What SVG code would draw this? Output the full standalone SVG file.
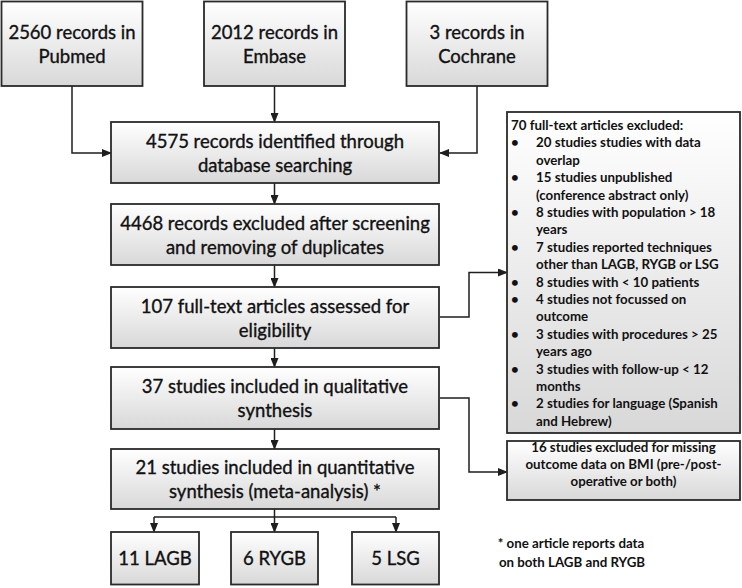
<svg xmlns="http://www.w3.org/2000/svg" width="742" height="588" viewBox="0 0 742 588">
<defs>
<linearGradient id="g" x1="0" y1="0" x2="0" y2="1">
<stop offset="0" stop-color="#ffffff"/>
<stop offset="1" stop-color="#d8d8d8"/>
</linearGradient>
<marker id="a" markerWidth="10" markerHeight="8" refX="9" refY="4" orient="auto" markerUnits="userSpaceOnUse">
<path d="M0,0 L10,4 L0,8 Z" fill="#1e1e1e"/>
</marker>
<style>
.box{fill:url(#g);stroke:#2a2a2a;stroke-width:1.8}
.t{font-family:Lato,"Open Sans",sans-serif;font-size:18.5px;fill:#111;stroke:#111;stroke-width:0.35;text-anchor:middle}
.s{font-family:Lato,"Open Sans",sans-serif;font-size:13.3px;font-weight:bold;fill:#111}
.c{text-anchor:middle}
.ln{fill:none;stroke:#1e1e1e;stroke-width:1.5}
</style>
</defs>
<rect width="742" height="588" fill="#ffffff"/>
<g id="connectors">
<path class="ln" d="M72,86 V153 H111" marker-end="url(#a)"/>
<path class="ln" d="M274.5,86 V122" marker-end="url(#a)"/>
<path class="ln" d="M477,86 V153 H440" marker-end="url(#a)"/>
<path class="ln" d="M274.5,183 V204" marker-end="url(#a)"/>
<path class="ln" d="M274.5,265 V287" marker-end="url(#a)"/>
<path class="ln" d="M274.5,348 V367" marker-end="url(#a)"/>
<path class="ln" d="M274.5,429 V449" marker-end="url(#a)"/>
<path class="ln" d="M440,317 H469 V272.5 H507" marker-end="url(#a)"/>
<path class="ln" d="M440,398 H469 V472 H507" marker-end="url(#a)"/>
<path class="ln" d="M274.5,509 V517"/>
<path class="ln" d="M154,517 H396"/>
<path class="ln" d="M154,517 V532" marker-end="url(#a)"/>
<path class="ln" d="M274.5,517 V532" marker-end="url(#a)"/>
<path class="ln" d="M396,517 V532" marker-end="url(#a)"/>
</g>
<g id="pubmed">
<rect class="box" x="1.5" y="1.5" width="141" height="84.5"/>
<text class="t" x="72" y="39">2560 records in</text>
<text class="t" x="72" y="63">Pubmed</text>
</g>
<g id="embase">
<rect class="box" x="204" y="1.5" width="141" height="84.5"/>
<text class="t" x="274.5" y="39">2012 records in</text>
<text class="t" x="274.5" y="63">Embase</text>
</g>
<g id="cochrane">
<rect class="box" x="406.5" y="1.5" width="141" height="84.5"/>
<text class="t" x="477" y="39">3 records in</text>
<text class="t" x="477" y="63">Cochrane</text>
</g>
<g id="identified">
<rect class="box" x="111" y="122" width="328" height="61"/>
<text class="t" x="275" y="147.5">4575 records identified through</text>
<text class="t" x="275" y="171.5">database searching</text>
</g>
<g id="screened">
<rect class="box" x="111" y="204" width="328" height="61"/>
<text class="t" x="275" y="229.5">4468 records excluded after screening</text>
<text class="t" x="275" y="253.5">and removing of duplicates</text>
</g>
<g id="fulltext">
<rect class="box" x="111" y="287" width="328" height="61"/>
<text class="t" x="275" y="312.5">107 full-text articles assessed for</text>
<text class="t" x="275" y="336.5">eligibility</text>
</g>
<g id="qualitative">
<rect class="box" x="111" y="367" width="328" height="62"/>
<text class="t" x="275" y="393">37 studies included in qualitative</text>
<text class="t" x="275" y="417">synthesis</text>
</g>
<g id="quantitative">
<rect class="box" x="111" y="449" width="328" height="60"/>
<text class="t" x="275" y="474">21 studies included in quantitative</text>
<text class="t" x="275" y="498">synthesis (meta-analysis) *</text>
</g>
<g id="lagb">
<rect class="box" x="111" y="532" width="88" height="52.5"/>
<text class="t" x="155" y="565">11 LAGB</text>
</g>
<g id="rygb">
<rect class="box" x="231" y="532" width="87" height="52.5"/>
<text class="t" x="274.5" y="565">6 RYGB</text>
</g>
<g id="lsg">
<rect class="box" x="352" y="532" width="87" height="52.5"/>
<text class="t" x="395.5" y="565">5 LSG</text>
</g>
<g id="excluded-fulltext">
<rect class="box" x="507" y="112" width="233" height="321"/>
<text class="s" x="511" y="130">70 full-text articles excluded:</text>
<text class="s" x="511" y="147.4">•</text>
<text class="s" x="536" y="147.4">20 studies studies with data</text>
<text class="s" x="536" y="164.8">overlap</text>
<text class="s" x="511" y="182.2">•</text>
<text class="s" x="536" y="182.2">15 studies unpublished</text>
<text class="s" x="536" y="199.6">(conference abstract only)</text>
<text class="s" x="511" y="217">•</text>
<text class="s" x="536" y="217">8 studies with population &gt; 18</text>
<text class="s" x="536" y="234.4">years</text>
<text class="s" x="511" y="251.8">•</text>
<text class="s" x="536" y="251.8">7 studies reported techniques</text>
<text class="s" x="536" y="269.2">other than LAGB, RYGB or LSG</text>
<text class="s" x="511" y="286.6">•</text>
<text class="s" x="536" y="286.6">8 studies with &lt; 10 patients</text>
<text class="s" x="511" y="304">•</text>
<text class="s" x="536" y="304">4 studies not focussed on</text>
<text class="s" x="536" y="321.4">outcome</text>
<text class="s" x="511" y="338.8">•</text>
<text class="s" x="536" y="338.8">3 studies with procedures &gt; 25</text>
<text class="s" x="536" y="356.2">years ago</text>
<text class="s" x="511" y="373.6">•</text>
<text class="s" x="536" y="373.6">3 studies with follow-up &lt; 12</text>
<text class="s" x="536" y="391">months</text>
<text class="s" x="511" y="408.4">•</text>
<text class="s" x="536" y="408.4">2 studies for language (Spanish</text>
<text class="s" x="536" y="425.8">and Hebrew)</text>
</g>
<g id="excluded-bmi">
<rect class="box" x="507" y="441" width="233" height="59"/>
<text class="s c" x="623.5" y="452">16 studies excluded for missing</text>
<text class="s c" x="623.5" y="469">outcome data on BMI (pre-/post-</text>
<text class="s c" x="623.5" y="486">operative or both)</text>
</g>
<g id="footnote">
<text class="s c" x="571" y="548">* one article reports data</text>
<text class="s c" x="572" y="567">on both LAGB and RYGB</text>
</g>
</svg>
